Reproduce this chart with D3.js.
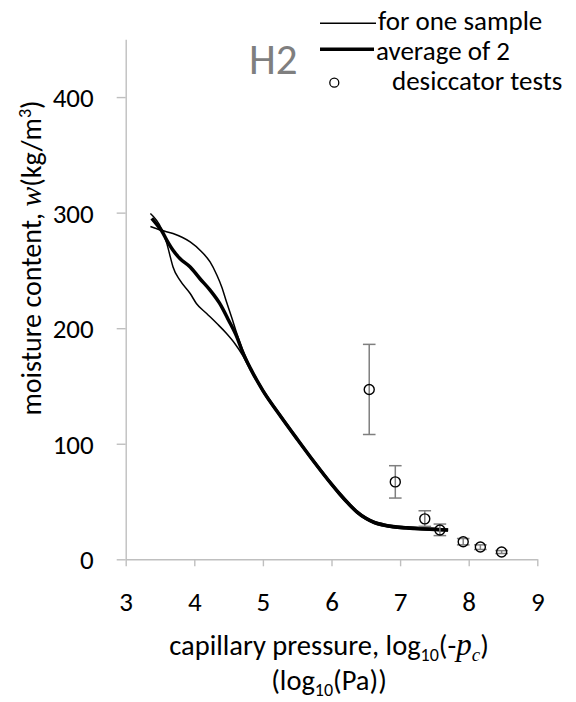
<!DOCTYPE html>
<html>
<head>
<meta charset="utf-8">
<script src="https://cdn.jsdelivr.net/npm/d3@7"></script>
<style>
  body { margin: 0; background: #fff; }
  svg text { font-family: Carlito, Calibri, Lato, sans-serif; fill: #000; }
</style>
</head>
<body>
<svg id="chart" width="576" height="702"></svg>
<script>
// retention curves: [log10(-pc), w]
var sample1 = [[3.36, 288], [3.52, 284.7], [3.69, 281.9], [3.94, 274.6], [4.11, 266], [4.23, 257.3],
  [4.33, 245.8], [4.40, 235.7], [4.47, 222.7], [4.55, 208.4], [4.62, 195.4], [4.7, 182], [4.82, 166],
  [5.0, 147], [5.25, 125.5], [5.5, 105], [5.75, 85], [6.0, 66], [6.12, 57.5], [6.25, 49], [6.37, 42],
  [6.5, 36.5], [6.62, 33], [6.75, 30.8], [6.9, 29.2], [7.1, 28.2], [7.3, 27.4], [7.5, 26.6], [7.7, 26]];
var sample2 = [[3.36, 299.2], [3.52, 286.2], [3.60, 273.2], [3.65, 261.7], [3.69, 253], [3.79, 241.5],
  [3.94, 230], [4.03, 221.4], [4.18, 212.7], [4.33, 204], [4.47, 195.4], [4.59, 186.8], [4.7, 177],
  [4.82, 163.5], [5.0, 145], [5.25, 123.5], [5.5, 103], [5.75, 83], [6.0, 64], [6.12, 55.5], [6.25, 47],
  [6.37, 40], [6.5, 34.5], [6.62, 31], [6.75, 28.8], [6.9, 27.2], [7.1, 26.2], [7.3, 25.5], [7.5, 25],
  [7.7, 24.6]];
var average = [[3.38, 295], [3.45, 290], [3.52, 284.7], [3.60, 276], [3.69, 267.4], [3.79, 260.3],
  [3.94, 253], [4.08, 243], [4.23, 232.9], [4.37, 221.4], [4.50, 206.9], [4.62, 192.5], [4.7, 180],
  [4.82, 165], [5.0, 146], [5.25, 124.5], [5.5, 104], [5.75, 84], [6.0, 65], [6.12, 56.5], [6.25, 48],
  [6.37, 41], [6.5, 35.5], [6.62, 32], [6.75, 29.8], [6.9, 28.2], [7.1, 27.2], [7.3, 26.5], [7.5, 25.9],
  [7.7, 25.3]];

// desiccator tests with error bar limits
var desPressure = [6.55, 6.93, 7.36, 7.58, 7.92, 8.17, 8.48];
var desMoisture = [147, 67, 35, 25.3, 15.2, 10.6, 6.3];
var desLow = [108, 53, 28.5, 20.5, 12.5, 8.5, 5];
var desHigh = [186, 81, 42, 30.5, 18, 12.5, 7.5];

var xTicks = [3, 4, 5, 6, 7, 8, 9];
var yTicks = [0, 100, 200, 300, 400];

var svg = d3.select("#chart"),
    plotLeft = 125.7, plotRight = 537.3, plotTop = 39.3, plotBottom = 559.3;

var x = d3.scaleLinear().domain([3, 9]).range([plotLeft, plotRight]),
    y = d3.scaleLinear().domain([0, 450]).range([plotBottom, plotTop]);

var axisColor = "#bfbfbf";

// axes
var gx = svg.append("g")
  .attr("transform", "translate(0," + plotBottom + ")")
  .call(d3.axisBottom(x).tickValues(xTicks).tickFormat(d3.format("d"))
    .tickSizeOuter(0).tickSizeInner(7).tickPadding(26));
var gy = svg.append("g")
  .attr("transform", "translate(" + plotLeft + ",0)")
  .call(d3.axisLeft(y).tickValues(yTicks).tickFormat(d3.format("d"))
    .tickSizeOuter(0).tickSizeInner(9).tickPadding(23));
[gx, gy].forEach(function(g) {
  g.attr("font-family", null).attr("font-size", null);
  g.select(".domain").attr("stroke", axisColor).attr("stroke-width", 1.4);
  g.selectAll(".tick line").attr("stroke", axisColor).attr("stroke-width", 1.4);
  g.selectAll(".tick text").attr("font-size", 27).attr("fill", "#000");
});
gx.selectAll(".tick text").attr("dy", "0.71em");
gy.selectAll(".tick text").attr("dy", "0.35em");

// curves
var line = d3.line()
  .x(function(d) { return x(d[0]); })
  .y(function(d) { return y(d[1]); })
  .curve(d3.curveMonotoneX);

[sample1, sample2].forEach(function(s) {
  svg.append("path").datum(s)
    .attr("d", line).attr("fill", "none")
    .attr("stroke", "#000").attr("stroke-width", 1.5);
});
svg.append("path").datum(average)
  .attr("d", line).attr("fill", "none")
  .attr("stroke", "#000").attr("stroke-width", 3.5);

// desiccator points with error bars
var des = desPressure.map(function(p, i) {
  return {p: p, w: desMoisture[i], lo: desLow[i], hi: desHigh[i]};
});
var eb = svg.append("g").attr("stroke", "#7f7f7f").attr("stroke-width", 1.5);
eb.selectAll("line.v").data(des).enter().append("line")
  .attr("x1", function(d) { return x(d.p); }).attr("x2", function(d) { return x(d.p); })
  .attr("y1", function(d) { return y(d.lo); }).attr("y2", function(d) { return y(d.hi); });
["lo", "hi"].forEach(function(k) {
  eb.selectAll("line." + k).data(des).enter().append("line")
    .attr("x1", function(d) { return x(d.p) - 6.3; }).attr("x2", function(d) { return x(d.p) + 6.3; })
    .attr("y1", function(d) { return y(d[k]); }).attr("y2", function(d) { return y(d[k]); });
});
svg.append("g").selectAll("circle").data(des).enter().append("circle")
  .attr("cx", function(d) { return x(d.p); })
  .attr("cy", function(d) { return y(d.w); })
  .attr("r", 5).attr("fill", "none").attr("stroke", "#000").attr("stroke-width", 1.4);

// panel label
svg.append("text").attr("x", 249).attr("y", 73.5)
  .attr("font-size", 43).style("fill", "#7f7f7f").text("H2");

// legend
var lg = svg.append("g");
lg.append("line").attr("x1", 320).attr("x2", 376).attr("y1", 23.3).attr("y2", 23.3)
  .attr("stroke", "#000").attr("stroke-width", 1.5);
lg.append("text").attr("x", 378).attr("y", 29.5).attr("font-size", 27).text("for one sample");
lg.append("line").attr("x1", 320).attr("x2", 374).attr("y1", 49.3).attr("y2", 49.3)
  .attr("stroke", "#000").attr("stroke-width", 3.5);
lg.append("text").attr("x", 376).attr("y", 59.5).attr("font-size", 27).text("average of 2");
lg.append("circle").attr("cx", 334.3).attr("cy", 82.7).attr("r", 4.5)
  .attr("fill", "none").attr("stroke", "#000").attr("stroke-width", 1.3);
lg.append("text").attr("x", 392).attr("y", 89.5).attr("font-size", 27).text("desiccator tests");

// y title
var yt = svg.append("text")
  .attr("transform", "translate(41,258) rotate(-90)")
  .attr("text-anchor", "middle").attr("font-size", 28);
yt.append("tspan").text("moisture content,  ");
yt.append("tspan").style("font-family", "'Liberation Serif', serif").style("font-style", "italic")
  .attr("font-size", 30).text("w");
yt.append("tspan").text("(kg/m");
yt.append("tspan").attr("dy", -10).attr("font-size", 18).text("3");
yt.append("tspan").attr("dy", 10).text(")");

// x title
var xt = svg.append("text").attr("x", 329).attr("y", 655)
  .attr("text-anchor", "middle").attr("font-size", 28.5);
xt.append("tspan").text("capillary pressure, log");
xt.append("tspan").attr("dy", 6).attr("font-size", 18).text("10");
xt.append("tspan").attr("dy", -6).text("(-");
xt.append("tspan").style("font-family", "'Liberation Serif', serif").style("font-style", "italic")
  .attr("font-size", 31).text("p");
xt.append("tspan").style("font-family", "'Liberation Serif', serif").style("font-style", "italic")
  .attr("dy", 6).attr("font-size", 19).text("c");
xt.append("tspan").attr("dy", -6).text(")");

var xt2 = svg.append("text").attr("x", 329).attr("y", 690)
  .attr("text-anchor", "middle").attr("font-size", 28.5);
xt2.append("tspan").text("(log");
xt2.append("tspan").attr("dy", 6).attr("font-size", 18).text("10");
xt2.append("tspan").attr("dy", -6).text("(Pa))");
</script>
</body>
</html>
